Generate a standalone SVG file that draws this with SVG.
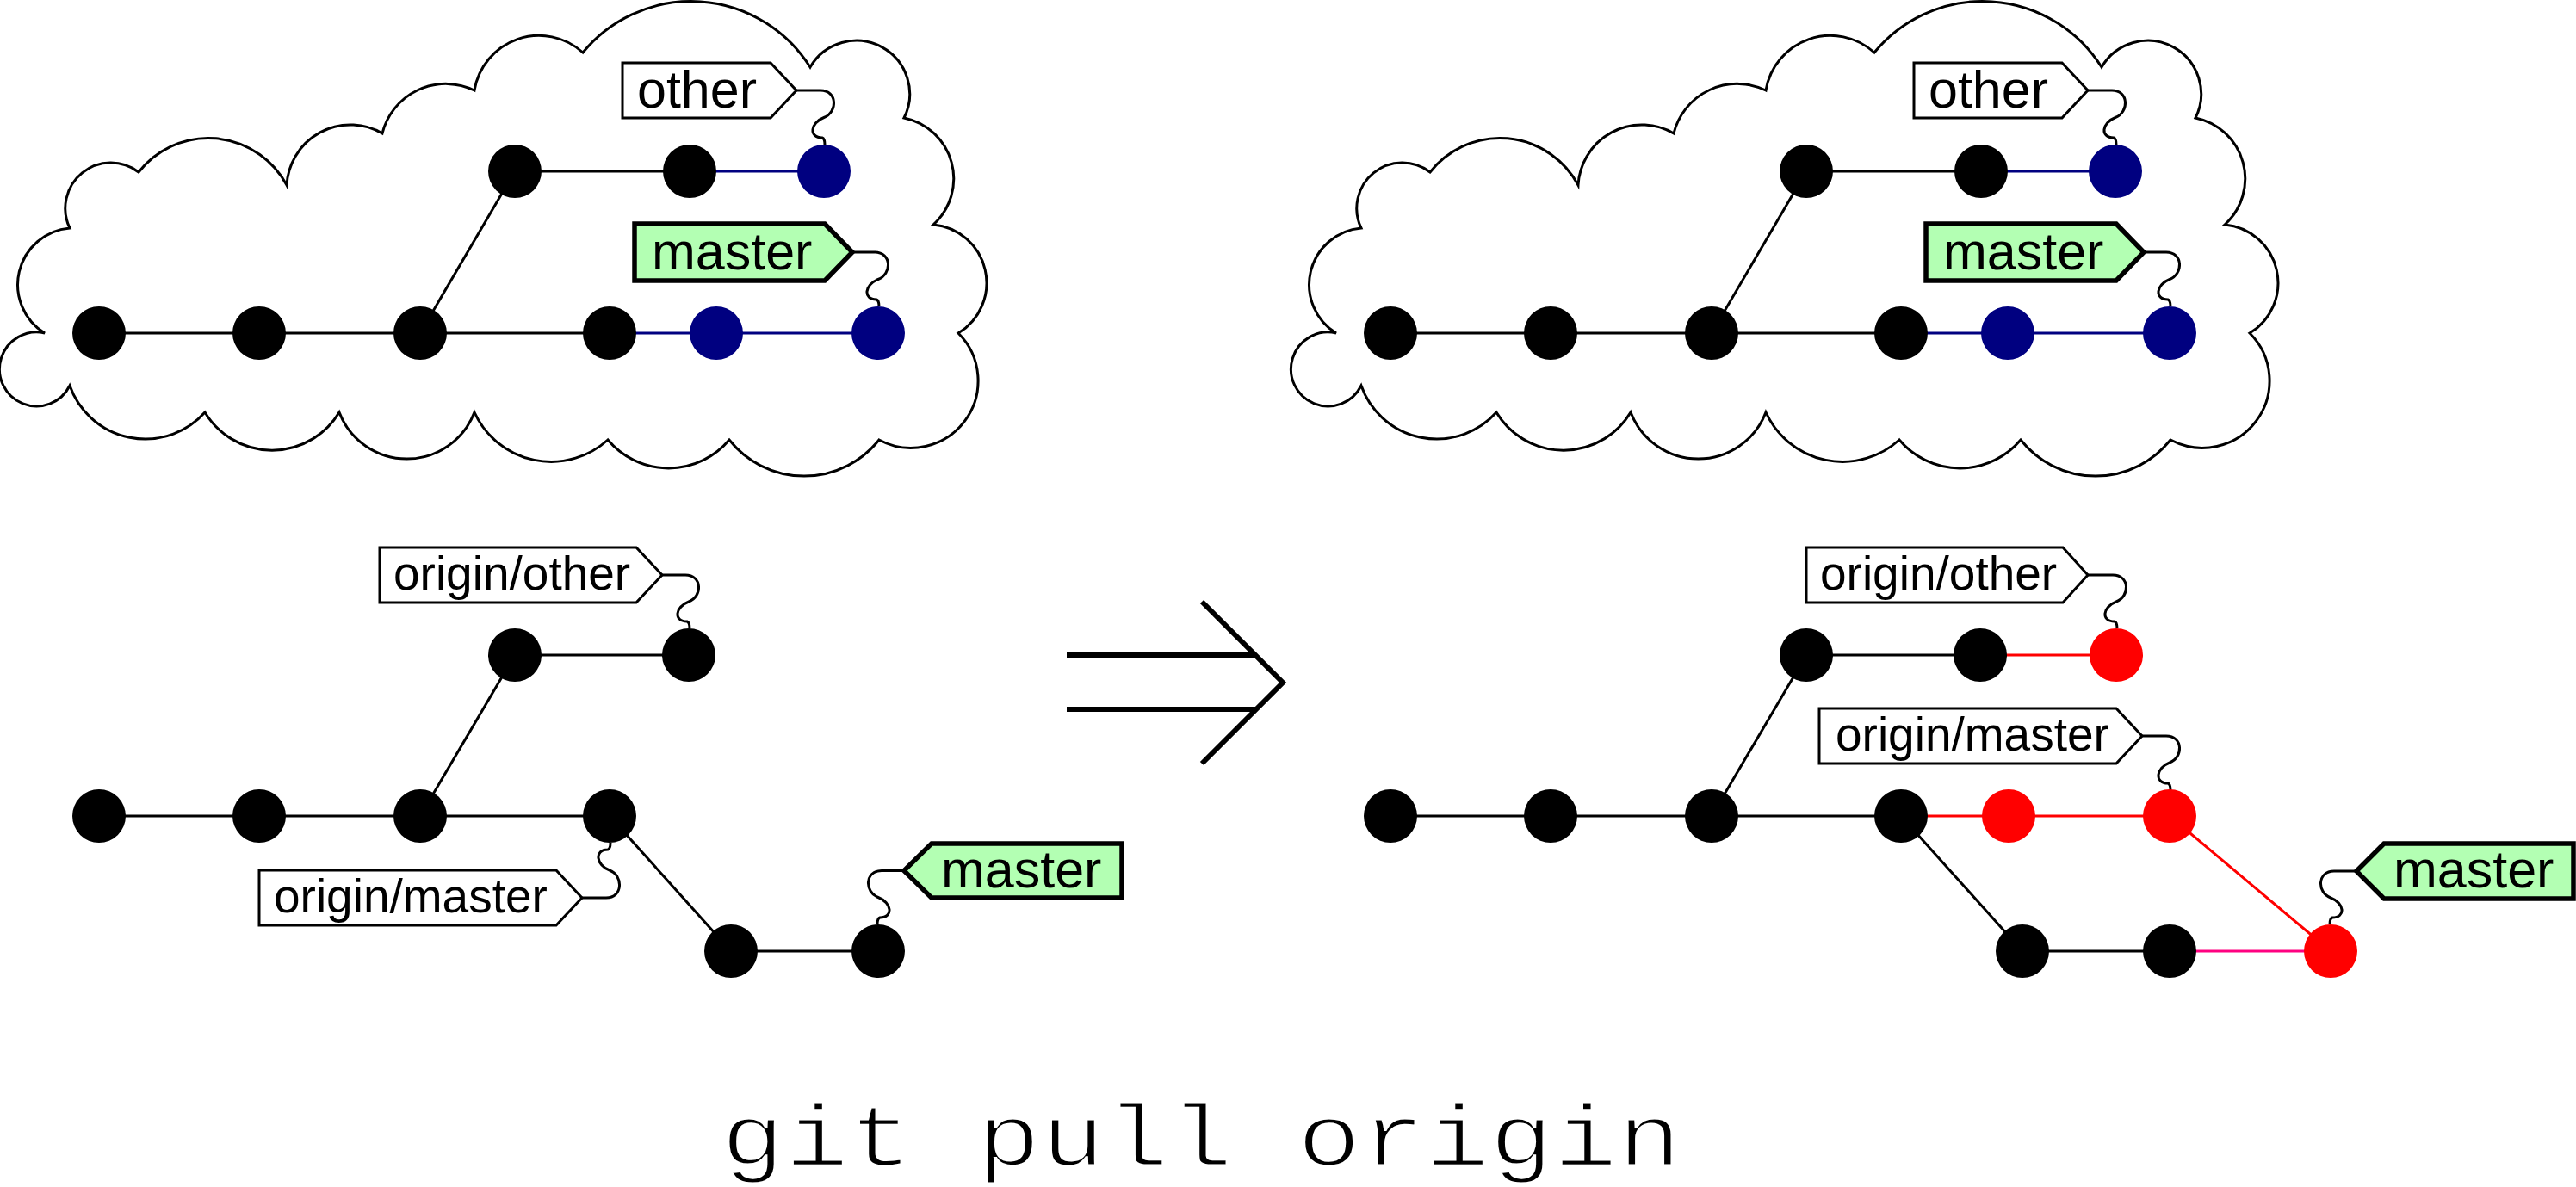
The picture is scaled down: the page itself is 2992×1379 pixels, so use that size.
<svg xmlns="http://www.w3.org/2000/svg" xmlns:xlink="http://www.w3.org/1999/xlink" width="2992" height="1379" viewBox="0 0 2992 1379">
<style>
.cloud{fill:#fff;stroke:#000;stroke-width:3;stroke-linejoin:miter}
.k{fill:#000}.nv{fill:#000080}.rd{fill:#ff0000}
.e{fill:none;stroke:#000;stroke-width:3}
.eb{fill:none;stroke:#000080;stroke-width:3}
.er{fill:none;stroke:#ff0000;stroke-width:3}
.ep{fill:none;stroke:#ff0080;stroke-width:3}
.w{fill:none;stroke:#000;stroke-width:3}
.lw{fill:#fff;stroke:#000;stroke-width:3}
.lg{fill:#b3ffb3;stroke:#000;stroke-width:5.5}
.t{font-family:"Liberation Sans",Arial,sans-serif;fill:#000}
.big{font-size:61px}.sm{font-size:55px}
.arr{fill:none;stroke:#000;stroke-width:6}
.cmd{font-family:"Liberation Mono","Courier New",monospace;font-size:124px;fill:#000;stroke:#fff;stroke-width:3.5}
</style>
<defs>
<path id="cloudShape" d="M52,387 A66,66 0 0 1 81,265 A53,53 0 0 1 161,200 A103,103 0 0 1 333,215 A74,74 0 0 1 444,155 A76,76 0 0 1 551,105 A76,76 0 0 1 677,61 A163,163 0 0 1 941,78 A62,62 0 0 1 1050,137 A72,72 0 0 1 1084,261 A68,68 0 0 1 1113,387 A78,78 0 0 1 1021,511 A111,111 0 0 1 847,511 A92,92 0 0 1 706,511 A98,98 0 0 1 551,479 A84,84 0 0 1 394,479 A91,91 0 0 1 238,479 A93,93 0 0 1 81,448 A43,43 0 1 1 52,387 Z"/>
</defs>
<g id="cloud-left"><use xlink:href="#cloudShape" href="#cloudShape" class="cloud"/></g>
<g id="cloud-right"><use xlink:href="#cloudShape" href="#cloudShape" class="cloud" transform="translate(1500,0)"/></g>

<g id="connectors">
  <path class="e" d="M115,387H708M488,387L598,199M598,199H801"/>
  <path class="eb" d="M708,387H1020M801,199H957"/>
  <path class="w" d="M925,105 L953,105 C973,105 973,130.5 957,136.5 C941,142.5 939,160 955,160 Q958,161 958,168"/>
  <path class="w" d="M990,293 L1016,293 C1036,293 1036,318.5 1020,324.5 C1004,330.5 1002,348 1018,348 Q1021,349 1021,356"/>
  <path class="e" d="M1615,387H2208M1988,387L2098,199M2098,199H2301"/>
  <path class="eb" d="M2208,387H2520M2301,199H2457"/>
  <path class="w" d="M2425,105 L2453,105 C2473,105 2473,130.5 2457,136.5 C2441,142.5 2439,160 2455,160 Q2458,161 2458,168"/>
  <path class="w" d="M2490,293 L2516,293 C2536,293 2536,318.5 2520,324.5 C2504,330.5 2502,348 2518,348 Q2521,349 2521,356"/>
  <path class="e" d="M115,948H708M488,948L598,761M598,761H800M708,948L849,1105M849,1105H1020"/>
  <path class="w" d="M769,668 L796,668 C816,668 816,693 800,699 C784,705 782,722 798,722 Q801,723 801,730"/>
  <path class="w" d="M676,1043 L704,1043 C724,1043 724,1017 708,1011 C692,1005 690,987 706,987 Q709,986 709,979"/>
  <path class="w" d="M1050,1011.5 L1024,1011.5 C1004,1011.5 1004,1036.5 1020,1042.5 C1036,1048.5 1038,1066 1022,1066 Q1019,1067 1019,1074"/>
  <path class="e" d="M1615,948H2208M1988,948L2098,761M2098,761H2300M2208,948L2349,1105M2349,1105H2520"/>
  <path class="er" d="M2208,948H2520M2300,761H2458M2520,948L2707,1105"/>
  <path class="ep" d="M2520,1105H2707"/>
  <path class="w" d="M2425,668 L2454,668 C2474,668 2474,693 2458,699 C2442,705 2440,722 2456,722 Q2459,723 2459,730"/>
  <path class="w" d="M2488,855 L2516,855 C2536,855 2536,880 2520,886 C2504,892 2502,910 2518,910 Q2521,911 2521,918"/>
  <path class="w" d="M2737,1012 L2711,1012 C2691,1012 2691,1037 2707,1043 C2723,1049 2725,1066 2709,1066 Q2706,1067 2706,1074"/>
</g>

<g id="tl-c1"><circle class="k" cx="115" cy="387" r="31"/></g>
<g id="tl-c2"><circle class="k" cx="301" cy="387" r="31"/></g>
<g id="tl-c3"><circle class="k" cx="488" cy="387" r="31"/></g>
<g id="tl-c4"><circle class="k" cx="708" cy="387" r="31"/></g>
<g id="tl-c5"><circle class="nv" cx="832" cy="387" r="31"/></g>
<g id="tl-c6"><circle class="nv" cx="1020" cy="387" r="31"/></g>
<g id="tl-u1"><circle class="k" cx="598" cy="199" r="31"/></g>
<g id="tl-u2"><circle class="k" cx="801" cy="199" r="31"/></g>
<g id="tl-u3"><circle class="nv" cx="957" cy="199" r="31"/></g>
<g id="tl-other"><polygon class="lw" points="723,73 895,73 925,105 895,137 723,137"/><text class="t big" x="740" y="125">other</text></g>
<g id="tl-master"><polygon class="lg" points="737,260 958,260 990,293 958,326 737,326"/><text class="t big" x="757" y="313">master</text></g>

<g id="tr-c1"><circle class="k" cx="1615" cy="387" r="31"/></g>
<g id="tr-c2"><circle class="k" cx="1801" cy="387" r="31"/></g>
<g id="tr-c3"><circle class="k" cx="1988" cy="387" r="31"/></g>
<g id="tr-c4"><circle class="k" cx="2208" cy="387" r="31"/></g>
<g id="tr-c5"><circle class="nv" cx="2332" cy="387" r="31"/></g>
<g id="tr-c6"><circle class="nv" cx="2520" cy="387" r="31"/></g>
<g id="tr-u1"><circle class="k" cx="2098" cy="199" r="31"/></g>
<g id="tr-u2"><circle class="k" cx="2301" cy="199" r="31"/></g>
<g id="tr-u3"><circle class="nv" cx="2457" cy="199" r="31"/></g>
<g id="tr-other"><polygon class="lw" points="2223,73 2395,73 2425,105 2395,137 2223,137"/><text class="t big" x="2240" y="125">other</text></g>
<g id="tr-master"><polygon class="lg" points="2237,260 2458,260 2490,293 2458,326 2237,326"/><text class="t big" x="2257" y="313">master</text></g>

<g id="bl-c1"><circle class="k" cx="115" cy="948" r="31"/></g>
<g id="bl-c2"><circle class="k" cx="301" cy="948" r="31"/></g>
<g id="bl-c3"><circle class="k" cx="488" cy="948" r="31"/></g>
<g id="bl-c4"><circle class="k" cx="708" cy="948" r="31"/></g>
<g id="bl-u1"><circle class="k" cx="598" cy="761" r="31"/></g>
<g id="bl-u2"><circle class="k" cx="800" cy="761" r="31"/></g>
<g id="bl-l1"><circle class="k" cx="849" cy="1105" r="31"/></g>
<g id="bl-l2"><circle class="k" cx="1020" cy="1105" r="31"/></g>
<g id="bl-origin-other"><polygon class="lw" points="441,636 739,636 769,668 739,700 441,700"/><text class="t sm" x="457" y="685">origin/other</text></g>
<g id="bl-origin-master"><polygon class="lw" points="301,1011 646,1011 676,1043 646,1075 301,1075"/><text class="t sm" x="318" y="1060">origin/master</text></g>
<g id="bl-master"><polygon class="lg" points="1050,1011.5 1082,980 1303,980 1303,1043 1082,1043"/><text class="t big" x="1093" y="1031">master</text></g>

<g id="br-c1"><circle class="k" cx="1615" cy="948" r="31"/></g>
<g id="br-c2"><circle class="k" cx="1801" cy="948" r="31"/></g>
<g id="br-c3"><circle class="k" cx="1988" cy="948" r="31"/></g>
<g id="br-c4"><circle class="k" cx="2208" cy="948" r="31"/></g>
<g id="br-c5"><circle class="rd" cx="2333" cy="948" r="31"/></g>
<g id="br-c6"><circle class="rd" cx="2520" cy="948" r="31"/></g>
<g id="br-u1"><circle class="k" cx="2098" cy="761" r="31"/></g>
<g id="br-u2"><circle class="k" cx="2300" cy="761" r="31"/></g>
<g id="br-u3"><circle class="rd" cx="2458" cy="761" r="31"/></g>
<g id="br-l1"><circle class="k" cx="2349" cy="1105" r="31"/></g>
<g id="br-l2"><circle class="k" cx="2520" cy="1105" r="31"/></g>
<g id="br-l3"><circle class="rd" cx="2707" cy="1105" r="31"/></g>
<g id="br-origin-other"><polygon class="lw" points="2098,636 2396,636 2425,668 2396,700 2098,700"/><text class="t sm" x="2114" y="685">origin/other</text></g>
<g id="br-origin-master"><polygon class="lw" points="2113,823 2458,823 2488,855 2458,887 2113,887"/><text class="t sm" x="2132" y="872">origin/master</text></g>
<g id="br-master"><polygon class="lg" points="2737,1012 2769,980 2989,980 2989,1044 2769,1044"/><text class="t big" x="2780" y="1031">master</text></g>

<g id="implies-arrow">
  <path class="arr" d="M1239,761H1458M1239,824H1459"/>
  <polyline class="arr" points="1396,699 1490,793 1396,887"/>
</g>

<g id="command"><text class="cmd" transform="translate(837,1354) scale(1,0.82)" x="0" y="0">git pull origin</text></g>
</svg>
